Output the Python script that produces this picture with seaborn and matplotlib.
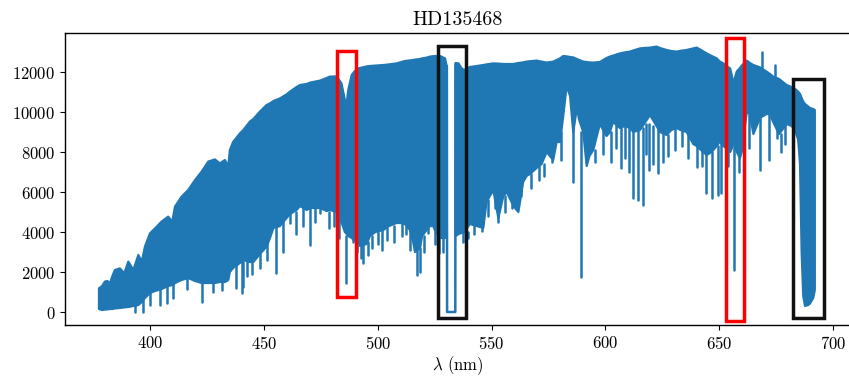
import numpy as np
import pandas as pd
import matplotlib
matplotlib.use("Agg")
import matplotlib.pyplot as plt
from matplotlib.patches import Rectangle
import seaborn as sns

# ---------------- data ----------------
# envelope of the dense spectrum (wavelength nm, upper flux, lower flux); NaN = data gap
env_wl = [377.6, 379.0, 380.2, 381.3, 382.4, 383.5, 384.6, 386.8, 388.7, 390.5, 392.7, 394.9,
          396.4, 397.8, 400.0, 402.2, 405.1, 408.0, 409.8, 411.0, 413.9, 416.8, 419.8, 422.7,
          425.6, 428.5, 430.7, 432.9, 434.4, 435.1, 436.5, 439.5, 441.0, 443.9, 445.4, 448.3,
          451.2, 452.7, 454.2, 457.1, 460.0, 461.5, 464.4, 465.9, 468.8, 470.3, 474.7, 477.6,
          479.0, 482.0, 484.1, 485.6, 486.4, 487.1, 488.6, 490.0, 491.5, 492.2, 495.2, 496.6,
          499.0, 502.5, 505.0, 508.3, 509.8, 512.0, 514.2, 515.6, 516.4, 518.6, 519.5, 521.5,
          523.0, 524.4, 525.5, 527.4, 529.6, 530.3, 532.0, 534.2, 535.5, 536.9, 538.0, 540.5,
          543.5, 546.4, 547.8, 550.8, 553.0, 555.2, 556.7, 559.6, 561.8, 563.9, 565.4, 566.9,
          569.8, 572.0, 574.2, 577.1, 578.6, 580.1, 581.5, 583.0, 584.5, 585.9, 587.5, 588.5,
          590.3, 591.8, 593.0, 594.7, 597.6, 600.5, 602.0, 603.4, 606.4, 608.5, 610.8, 612.3,
          615.2, 617.0, 619.6, 622.5, 624.0, 626.9, 629.0, 631.3, 633.0, 635.7, 638.6, 640.1,
          642.0, 644.5, 646.7, 648.9, 650.3, 651.8, 653.2, 654.8, 655.6, 656.2, 656.9, 657.7,
          659.1, 659.9, 662.1, 663.5, 665.0, 667.9, 670.8, 672.3, 673.7, 676.3, 679.6, 681.8,
          683.3, 684.7, 685.5, 686.2, 686.9, 687.7, 689.1, 689.9, 691.3, 692.0]
env_top = [1180, 1300, 1520, 1550, 1430, 1800, 2100, 2180, 1930, 2520, 2100, 2850,
           2520, 3270, 3930, 4180, 4520, 4770, 4520, 5270, 5770, 6100, 6600, 7020,
           7520, 7630, 7430, 7600, 7300, 8100, 8500, 8930, 9100, 9520, 9650, 10020,
           10350, 10430, 10550, 10680, 10880, 11020, 11250, 11350, 11400, 11470, 11570, 11700,
           11770, 11780, 11430, 10600, 10430, 11100, 11850, 12050, 12180, 12200, 12280, 12300,
           12320, 12350, 12380, 12430, 12480, 12550, 12580, 12600, 12620, 12650, 12680, 12720,
           12770, 12790, 12800, 12800, 12680, 12300, np.nan, 12450, 12430, 12180, 12100, 12250,
           12300, 12350, 12380, 12430, 12420, 12400, 12400, 12400, 12450, 12480, 12520, 12540,
           12570, 12520, 12470, 12520, 12600, 12680, 12800, 12780, 12750, 12730, 12650, 12600,
           12520, 12500, 12480, 12470, 12500, 12700, 12770, 12820, 12930, 12980, 13020, 13080,
           13180, 13200, 13220, 13270, 13200, 13100, 13050, 13020, 13060, 13100, 13180, 13220,
           13100, 12930, 12800, 12680, 12520, 12430, 12300, 12180, 11800, 11350, 11700, 12020,
           12200, 12320, 12570, 12450, 12350, 12230, 12020, 11900, 11770, 11650, 11350, 11250,
           11150, 11020, 10900, 10700, 10520, 10400, 10270, 10200, 10150, 10100]
env_bot = [150, 100, 120, 130, 150, 150, 180, 200, 230, 250, 300, 350,
           500, 700, 950, 1050, 1150, 1300, 1350, 1450, 1600, 1700, 1550, 1450,
           1450, 1450, 1500, 1500, 1600, 2000, 2200, 2450, 2600, 2500, 2500, 2900,
           3270, 3700, 4200, 4300, 4700, 4900, 5100, 5300, 5100, 5200, 5200, 5050,
           5100, 5000, 4500, 4000, 3900, 3800, 3700, 3550, 3500, 3300, 3400, 3800,
           4000, 4100, 4300, 4450, 4450, 4400, 4100, 3500, 3000, 3200, 3800, 4100,
           4300, 4300, 4000, 3700, 3700, 3800, np.nan, 3800, 3900, 3950, 4000, 4400,
           4300, 4200, 5500, 6100, 4700, 5800, 6000, 5300, 5000, 6500, 6800, 6900,
           7200, 7400, 8000, 7600, 8500, 8500, 9800, 11300, 10800, 9000, 10200, 9600,
           9000, 7300, 7800, 8100, 9400, 8800, 9000, 9500, 9200, 9300, 9200, 9000,
           9100, 9400, 9850, 9300, 9000, 8850, 9100, 9200, 9100, 9000, 8400, 8300,
           8100, 7850, 8000, 8300, 8520, 8300, 8180, 8000, 8200, 8500, 8400, 8000,
           7700, 8000, 10000, 9900, 8900, 9700, 9900, 9900, 9500, 8900, 9400, 9300,
           9100, 8600, 7400, 3000, 800, 300, 350, 430, 700, 1100]

# individual absorption (and a few upward) lines: wavelength, start flux, end flux
line_wl = [393.4, 396.8, 400.0, 404.4, 407.3, 410.2, 416.1, 422.7, 427.8, 431.5, 436.0, 438.0,
           440.3, 441.0, 442.5, 445.0, 448.5, 451.5, 455.3, 458.5, 461.5, 470.3, 474.7, 483.0,
           486.1, 489.3, 491.0, 493.5, 495.9, 501.8, 504.0, 512.5, 517.3, 518.4, 522.3, 527.0,
           537.6, 545.7, 548.5, 553.0, 558.8, 576.4, 585.9, 589.3, 602.6, 606.8, 610.5, 612.3,
           614.5, 616.4, 619.3, 623.3, 625.5, 630.6, 640.1, 644.2, 646.7, 649.6, 651.0, 656.6,
           668.0, 672.0, 675.2, 668.6, 674.5,
           464.0, 467.0, 472.5, 478.5, 481.0, 492.5, 497.5, 500.0, 507.0, 510.5, 514.0, 520.5,
           525.0, 528.5, 539.5, 542.5, 551.5, 555.8, 563.0, 567.5, 571.0, 573.0, 580.5, 595.5,
           599.0, 604.5, 608.5, 617.8, 621.0, 627.5, 633.5, 636.5, 642.5, 654.0, 658.5, 661.0,
           663.0, 677.0, 679.0]
line_from = [1000, 1000, 1500, 1500, 1800, 2000, 2200, 2000, 2000, 2000, 2800, 2800,
             3000, 3000, 3000, 3000, 3000, 3500, 4500, 4800, 5200, 5500, 5500, 4800,
             3800, 3800, 3800, 3400, 3500, 4200, 4200, 4500, 3100, 3200, 4200, 3800,
             4000, 4400, 5600, 4800, 5400, 8000, 10800, 9000, 9000, 9200, 9200, 9000,
             9100, 9200, 9400, 9300, 9000, 9200, 8300, 7850, 8000, 8300, 8500, 8500,
             9700, 9900, 9500, 12200, 11700,
             5000, 5200, 5200, 5000, 5000, 3400, 3800, 4000, 4300, 4400, 4100, 3800,
             4000, 3700, 4000, 4300, 6100, 5800, 6500, 6900, 7300, 7400, 9000, 8100,
             9400, 9500, 9300, 9400, 9300, 8850, 9100, 9000, 8100, 8000, 8000, 9000,
             9900, 8900, 9400]
line_to = [0, 0, 350, 350, 450, 680, 1150, 520, 1020, 1100, 2250, 1200,
           930, 1270, 1800, 1900, 2200, 2600, 1950, 3000, 4430, 3350, 4930, 3700,
           1470, 3520, 3000, 2450, 2850, 3100, 3600, 3900, 1850, 2020, 3930, 2950,
           3500, 4070, 4800, 4520, 5180, 7520, 6520, 1730, 7520, 7180, 7020, 5680,
           5600, 5350, 7100, 6930, 7520, 8100, 7270, 5930, 5680, 5850, 5930, 2100,
           7100, 7600, 8700, 13020, 12350,
           3900, 4300, 4500, 4200, 4300, 2700, 3200, 3400, 3500, 3800, 3100, 3000,
           3400, 3000, 3700, 3900, 5200, 5000, 5800, 6200, 6600, 6800, 7600, 7500,
           7900, 8200, 7700, 7900, 7400, 7800, 8300, 7700, 7300, 7300, 7000, 7300,
           8200, 8000, 8400]

# data gap near 532 nm, plotted as zero flux
gap_wl = [530.4, 530.5, 534.1, 534.2]
gap_flux = [12300, 0, 0, 12400]

# highlighted regions (wavelength range, flux range, colour)
box_lo = [482.0, 526.4, 652.8, 682.4]
box_hi = [490.4, 538.8, 660.8, 696.2]
box_bottom = [770, -320, -450, -320]
box_top = [13070, 13300, 13720, 11630]
box_color = ["#ff0000", "#111111", "#ff0000", "#111111"]

title = "HD135468"
xlabel = r"$\lambda$ (nm)"
xticks = [400, 450, 500, 550, 600, 650, 700]
yticks = [0, 2000, 4000, 6000, 8000, 10000, 12000]

# ---------------- style ----------------
sns.set_theme(style="ticks")
plt.rcParams.update({
    "font.family": "serif",
    "font.serif": ["cmr10", "DejaVu Serif"],
    "mathtext.fontset": "cm",
    "axes.formatter.use_mathtext": True,
    "font.size": 12,
    "axes.titlesize": 14.4,
    "axes.labelsize": 12,
    "xtick.labelsize": 12,
    "ytick.labelsize": 12,
    "axes.edgecolor": "black",
    "axes.labelcolor": "black",
    "text.color": "black",
    "xtick.color": "black",
    "ytick.color": "black",
    "axes.linewidth": 1.0,
    "xtick.major.size": 3.5,
    "ytick.major.size": 3.5,
    "xtick.major.width": 0.8,
    "ytick.major.width": 0.8,
})

blue = "#1f77b4"

fig = plt.figure(figsize=(8.49, 3.78), dpi=100)
ax = fig.add_axes([0.0766, 0.1402, 0.9258, 0.7725])

# dense part of the spectrum
ax.fill_between(np.array(env_wl), np.array(env_bot, dtype=float), np.array(env_top, dtype=float),
                facecolor=blue, edgecolor=blue, linewidth=1.6, zorder=2)

# individual lines + gap, through seaborn
rows = []
for i, (w, f0, f1) in enumerate(zip(line_wl, line_from, line_to)):
    rows.append({"wl": w, "flux": f0, "unit": f"l{i}"})
    rows.append({"wl": w, "flux": f1, "unit": f"l{i}"})
for w, f in zip(gap_wl, gap_flux):
    rows.append({"wl": w, "flux": f, "unit": "gap"})
df = pd.DataFrame(rows)
sns.lineplot(data=df, x="wl", y="flux", units="unit", estimator=None, sort=False,
             color=blue, linewidth=1.8, ax=ax, legend=False, zorder=3)

for lo, hi, b, t, c in zip(box_lo, box_hi, box_bottom, box_top, box_color):
    ax.add_patch(Rectangle((lo, b), hi - lo, t - b, fill=False, edgecolor=c,
                           linewidth=2.5, zorder=4))

ax.set_xlim(362.7, 707.9)
ax.set_ylim(-650, 13950)
ax.set_xticks(xticks)
ax.set_yticks(yticks)
ax.set_title(title)
ax.set_xlabel(xlabel, labelpad=2)
ax.set_ylabel("")

fig.savefig("out.png", dpi=100)
